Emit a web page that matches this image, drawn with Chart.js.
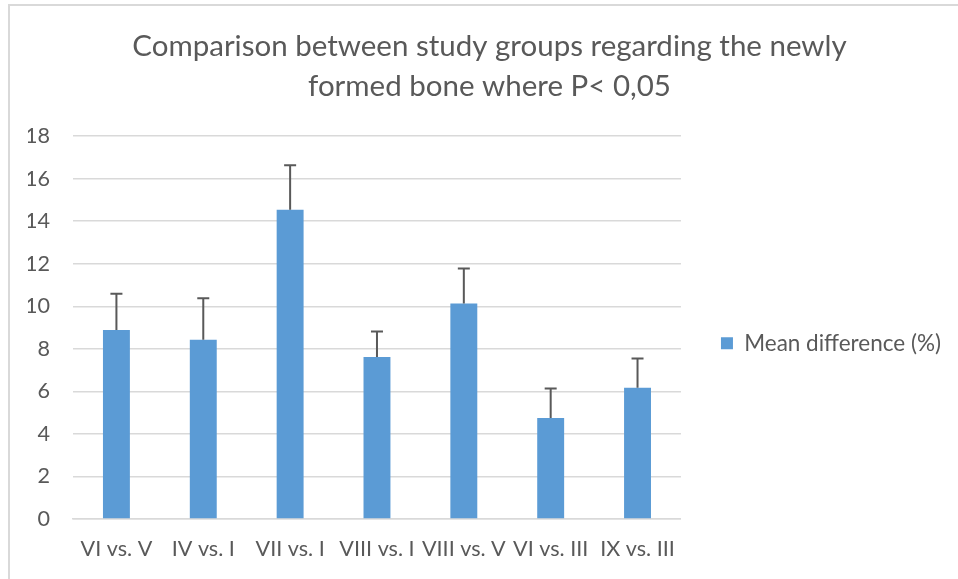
<!DOCTYPE html>
<html>
<head>
<meta charset="utf-8">
<script src="https://cdn.jsdelivr.net/npm/chart.js@4.4.1/dist/chart.umd.min.js"></script>
<style>
    html, body { margin: 0; padding: 0; background: #ffffff; }
    #wrap { position: absolute; left: 0; top: 0; width: 958px; height: 579px; }
</style>
</head>
<body>
<div id="wrap"><canvas id="chart" width="958" height="579"></canvas></div>
<script>
// --- Data ---
const categories = ['VI vs. V', 'IV vs. I', 'VII vs. I', 'VIII vs. I', 'VIII vs. V', 'VI vs. III', 'IX vs. III'];
const meanDifference = [8.89, 8.43, 14.53, 7.62, 10.13, 4.75, 6.17];
const errorUpper = [1.70, 1.95, 2.09, 1.19, 1.64, 1.38, 1.37];
const yTicks = [0, 2, 4, 6, 8, 10, 12, 14, 16, 18];

const textColor = '#595959';
const gridColor = '#d9d9d9';
const barColor = '#5b9bd5';
const fontFamily = 'Lato, "Open Sans", sans-serif';

// frame lines (top + left) like the office chart border
const framePlugin = {
    id: 'frame',
    beforeDraw(chart) {
        const ctx = chart.ctx;
        ctx.save();
        ctx.fillStyle = '#ffffff';
        ctx.fillRect(0, 0, chart.width, chart.height);
        ctx.fillStyle = gridColor;
        ctx.fillRect(8, 4, chart.width - 8, 2);
        ctx.fillRect(8, 4, 2, chart.height - 4);
        ctx.restore();
    }
};

// upper error bars only
const errorBarPlugin = {
    id: 'errorBars',
    afterDatasetsDraw(chart) {
        const ctx = chart.ctx;
        const yScale = chart.scales.y;
        const meta = chart.getDatasetMeta(0);
        ctx.save();
        ctx.strokeStyle = textColor;
        ctx.lineWidth = 2;
        meta.data.forEach((bar, i) => {
            const top = yScale.getPixelForValue(meanDifference[i] + errorUpper[i]);
            ctx.beginPath();
            ctx.moveTo(bar.x, bar.y);
            ctx.lineTo(bar.x, top);
            ctx.moveTo(bar.x - 6, top);
            ctx.lineTo(bar.x + 6, top);
            ctx.stroke();
        });
        ctx.restore();
    }
};

new Chart(document.getElementById('chart'), {
    type: 'bar',
    data: {
        labels: categories,
        datasets: [{
            label: 'Mean difference (%)',
            data: meanDifference,
            backgroundColor: barColor,
            categoryPercentage: 1,
            barPercentage: 0.31
        }]
    },
    options: {
        responsive: false,
        animation: false,
        layout: { padding: { left: 28, right: 7, top: 0, bottom: 8 } },
        plugins: {
            title: {
                display: true,
                text: ['Comparison between study groups regarding the newly', 'formed bone where P< 0,05'],
                color: textColor,
                font: { family: fontFamily, size: 29.5, weight: 'normal', lineHeight: '40px' },
                padding: { top: 26, bottom: 30 }
            },
            legend: {
                position: 'right',
                align: 'start',
                maxWidth: 320,
                title: { display: true, text: '', font: { size: 10, lineHeight: '12px' }, padding: { top: 280, bottom: 0 } },
                labels: {
                    color: textColor,
                    boxWidth: 12,
                    boxHeight: 12,
                    padding: 40,
                    font: { family: fontFamily, size: 22.5 }
                }
            },
            tooltip: { enabled: false }
        },
        scales: {
            x: {
                grid: { display: false },
                border: { color: gridColor, width: 1.5 },
                ticks: { color: textColor, font: { family: fontFamily, size: 21.6 }, padding: 9, maxRotation: 0, autoSkip: false }
            },
            y: {
                min: 0,
                max: 18,
                afterBuildTicks(axis) { axis.ticks = yTicks.map(v => ({ value: v })); },
                afterFit(axis) { axis.width = 45; },
                grid: { color: gridColor, lineWidth: 1.5, drawTicks: false },
                border: { display: false },
                ticks: { color: textColor, font: { family: fontFamily, size: 21.6 }, padding: 23 }
            }
        }
    },
    plugins: [framePlugin, errorBarPlugin]
});
</script>
</body>
</html>
